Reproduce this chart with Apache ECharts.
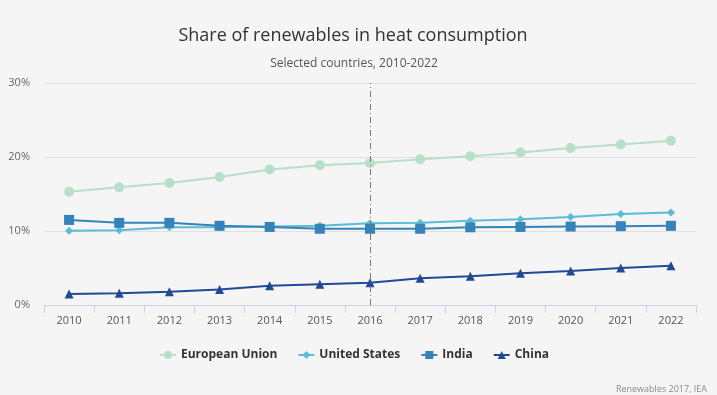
<!DOCTYPE html>
<html><head><meta charset="utf-8">
<script src="https://cdn.jsdelivr.net/npm/echarts@6/dist/echarts.min.js"></script>
<style>html,body{margin:0;padding:0;background:#f5f5f5;}#c{width:717px;height:395px;}</style>
</head><body><div id="c"></div>
<script>
const years = ['2010','2011','2012','2013','2014','2015','2016','2017','2018','2019','2020','2021','2022'];
const eu = [15.3,15.9,16.5,17.3,18.3,18.9,19.2,19.7,20.1,20.6,21.2,21.7,22.2];
const us = [10.05,10.1,10.5,10.5,10.6,10.7,11.05,11.1,11.4,11.6,11.9,12.3,12.5];
const india = [11.5,11.1,11.1,10.7,10.55,10.3,10.3,10.3,10.5,10.55,10.6,10.65,10.7];
const china = [1.5,1.6,1.8,2.1,2.6,2.8,3.0,3.6,3.9,4.3,4.6,5.0,5.3];
const yTicks = [0,10,20,30];
const markYear = '2016';

const font = '"Open Sans", sans-serif';
const chart = echarts.init(document.getElementById('c'));
function s(name, data, color, symbol, size){
  return {name, type:'line', data, color, symbol, symbolSize:size, showSymbol:true,
    lineStyle:{width:2,color}, itemStyle:{color}, z:3};
}
const series = [
  s('European Union', eu, '#b8dfca', 'circle', 10),
  s('United States', us, '#5bbcd6', 'diamond', 8),
  s('India', india, '#3583b8', 'rect', 10),
  s('China', china, '#214a96', 'triangle', 9)
];
series[0].markLine = {silent:true, symbol:'none', label:{show:false},
  lineStyle:{color:'#777', width:1, type:[6,3,1,3]},
  data:[{xAxis:markYear}]};
chart.setOption({
  backgroundColor:'#f5f5f5',
  animation:false,
  title:[{text:'Share of renewables in heat consumption', left:348, textAlign:'center', top:22,
    textStyle:{fontFamily:font, fontSize:18, fontWeight:'normal', color:'#333'}},
    {text:'Selected countries, 2010-2022', left:349, textAlign:'center', top:53,
    textStyle:{fontFamily:font, fontSize:12, fontWeight:'normal', color:'#555'}},
    {text:'Renewables 2017, IEA', right:10, bottom:1, padding:0,
    textStyle:{fontFamily:font, fontSize:9, fontWeight:'normal', color:'#888'}}],
  legend:{bottom:29, left:154, itemGap:20, itemWidth:16, itemHeight:10,
    textStyle:{fontFamily:font, fontSize:12, fontWeight:'bold', color:'#333'},
    data:['European Union','United States','India','China']},
  grid:{left:44, right:21, top:83, bottom:90},
  xAxis:{type:'category', data:years, boundaryGap:true,
    axisLine:{lineStyle:{color:'#c8d3e6'}},
    axisTick:{show:true, length:8, lineStyle:{color:'#c8d3e6'}},
    axisLabel:{fontFamily:font, fontSize:11, color:'#555', margin:10}},
  yAxis:{type:'value', min:0, max:30, interval:10,
    axisLine:{show:false}, axisTick:{show:false},
    splitLine:{lineStyle:{color:'#e0e0e0'}},
    axisLabel:{fontFamily:font, fontSize:11, color:'#666', margin:14,
      formatter:v=> yTicks.includes(v) ? v+'%' : ''}},
  series
});
</script></body></html>
